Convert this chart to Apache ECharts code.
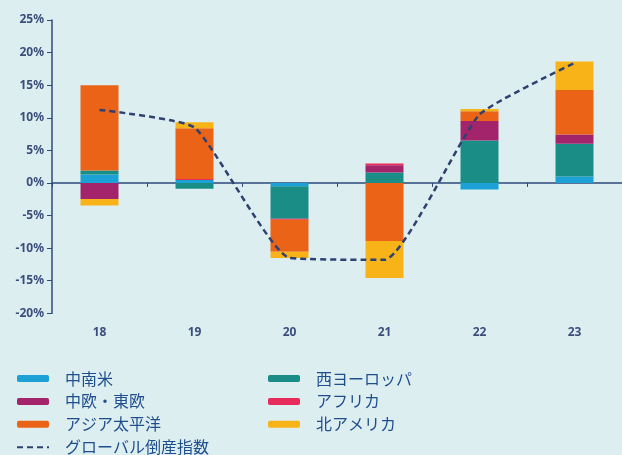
<!DOCTYPE html>
<html><head><meta charset="utf-8">
<script src="https://cdn.jsdelivr.net/npm/echarts@6/dist/echarts.min.js"></script>
<style>html,body{margin:0;padding:0;background:#DDEEF1;}#c{width:622px;height:455px;}</style>
</head><body><div id="c"></div>
<script>
const categories = ['18','19','20','21','22','23'];
const latam      = [1.3, 0.45, -0.5, 0, -1.0, 1.0];
const westEurope = [0.6, -0.9, -5.0, 1.6, 6.5, 5.0];
const ceEurope   = [-2.45, 0, 0, 1.1, 3.0, 1.45];
const africa     = [0, 0.15, -0.15, 0.3, 0, 0];
const asiaPac    = [13.1, 7.8, -4.9, -8.9, 1.5, 6.8];
const northAm    = [-1.0, 0.9, -0.95, -5.7, 0.35, 4.4];
const globalIdx  = [11.2, 8.5, -11.5, -11.8, 10.5, 18.4];
const yTicks = {min: -20, max: 25, interval: 5};

const navy = '#2E4A7A';
const lbl = '#3A4E7C';
const txt = '#1F4E8C';
const font = '"Noto Sans CJK JP", "Noto Sans", sans-serif';
function bar(name, data, color) {
  return {name, type: 'bar', stack: 'a', data, barWidth: 38,
    itemStyle: {color}, emphasis: {disabled: true}};
}
const chart = echarts.init(document.getElementById('c'), null, {renderer: 'canvas'});
const legendCommon = {orient: 'vertical', itemWidth: 32, itemHeight: 7, itemGap: 6.9, padding: 0,
  height: 100, textStyle: {color: txt, fontSize: 16, lineHeight: 14, fontFamily: font, padding: [0,0,0,11]},
  selectedMode: false};
chart.setOption({
  backgroundColor: '#DDEEF1',
  animation: false,
  grid: {left: 52, right: 0, top: 20, bottom: 141.7, outerBoundsMode: 'none', containLabel: false},
  xAxis: [
    {type: 'category', data: categories,
      axisLine: {onZero: true, lineStyle: {color: navy, width: 1.5}},
      axisTick: {show: true, length: 4, lineStyle: {color: navy}},
      axisLabel: {show: false}},
    {type: 'category', data: categories, position: 'bottom',
      axisLine: {show: false, onZero: false}, axisTick: {show: false},
      axisLabel: {color: lbl, fontSize: 12, fontWeight: 'bold', fontFamily: '"Noto Sans", sans-serif', margin: 13}}
  ],
  yAxis: {type: 'value', min: yTicks.min, max: yTicks.max, interval: yTicks.interval,
    axisLine: {show: true, lineStyle: {color: navy, width: 1.5}},
    axisTick: {show: true, length: 5, lineStyle: {color: navy}},
    splitLine: {show: false},
    axisLabel: {color: lbl, fontSize: 12, fontWeight: 'bold', fontFamily: '"Noto Sans", sans-serif',
      formatter: '{value}%', margin: 8}
  },
  legend: [
    Object.assign({left: 16, top: 370.5, data: ['中南米','中欧・東欧','アジア太平洋',
      {name: 'グローバル倒産指数', itemStyle: {opacity: 0}}]}, legendCommon),
    Object.assign({left: 268, top: 370.5, data: ['西ヨーロッパ','アフリカ','北アメリカ']}, legendCommon)
  ],
  series: [
    bar('中南米', latam, '#1BA1D6'),
    bar('西ヨーロッパ', westEurope, '#1A8D86'),
    bar('中欧・東欧', ceEurope, '#A4246C'),
    bar('アフリカ', africa, '#E72B5A'),
    bar('アジア太平洋', asiaPac, '#EA6317'),
    bar('北アメリカ', northAm, '#F8B319'),
    {name: 'グローバル倒産指数', type: 'line', data: globalIdx, symbol: 'none', smooth: 0.15,
      lineStyle: {color: '#2E4272', width: 2.5, type: [6, 4]}, itemStyle: {color: '#2E4272'}, z: 5}
  ]
});
</script></body></html>
